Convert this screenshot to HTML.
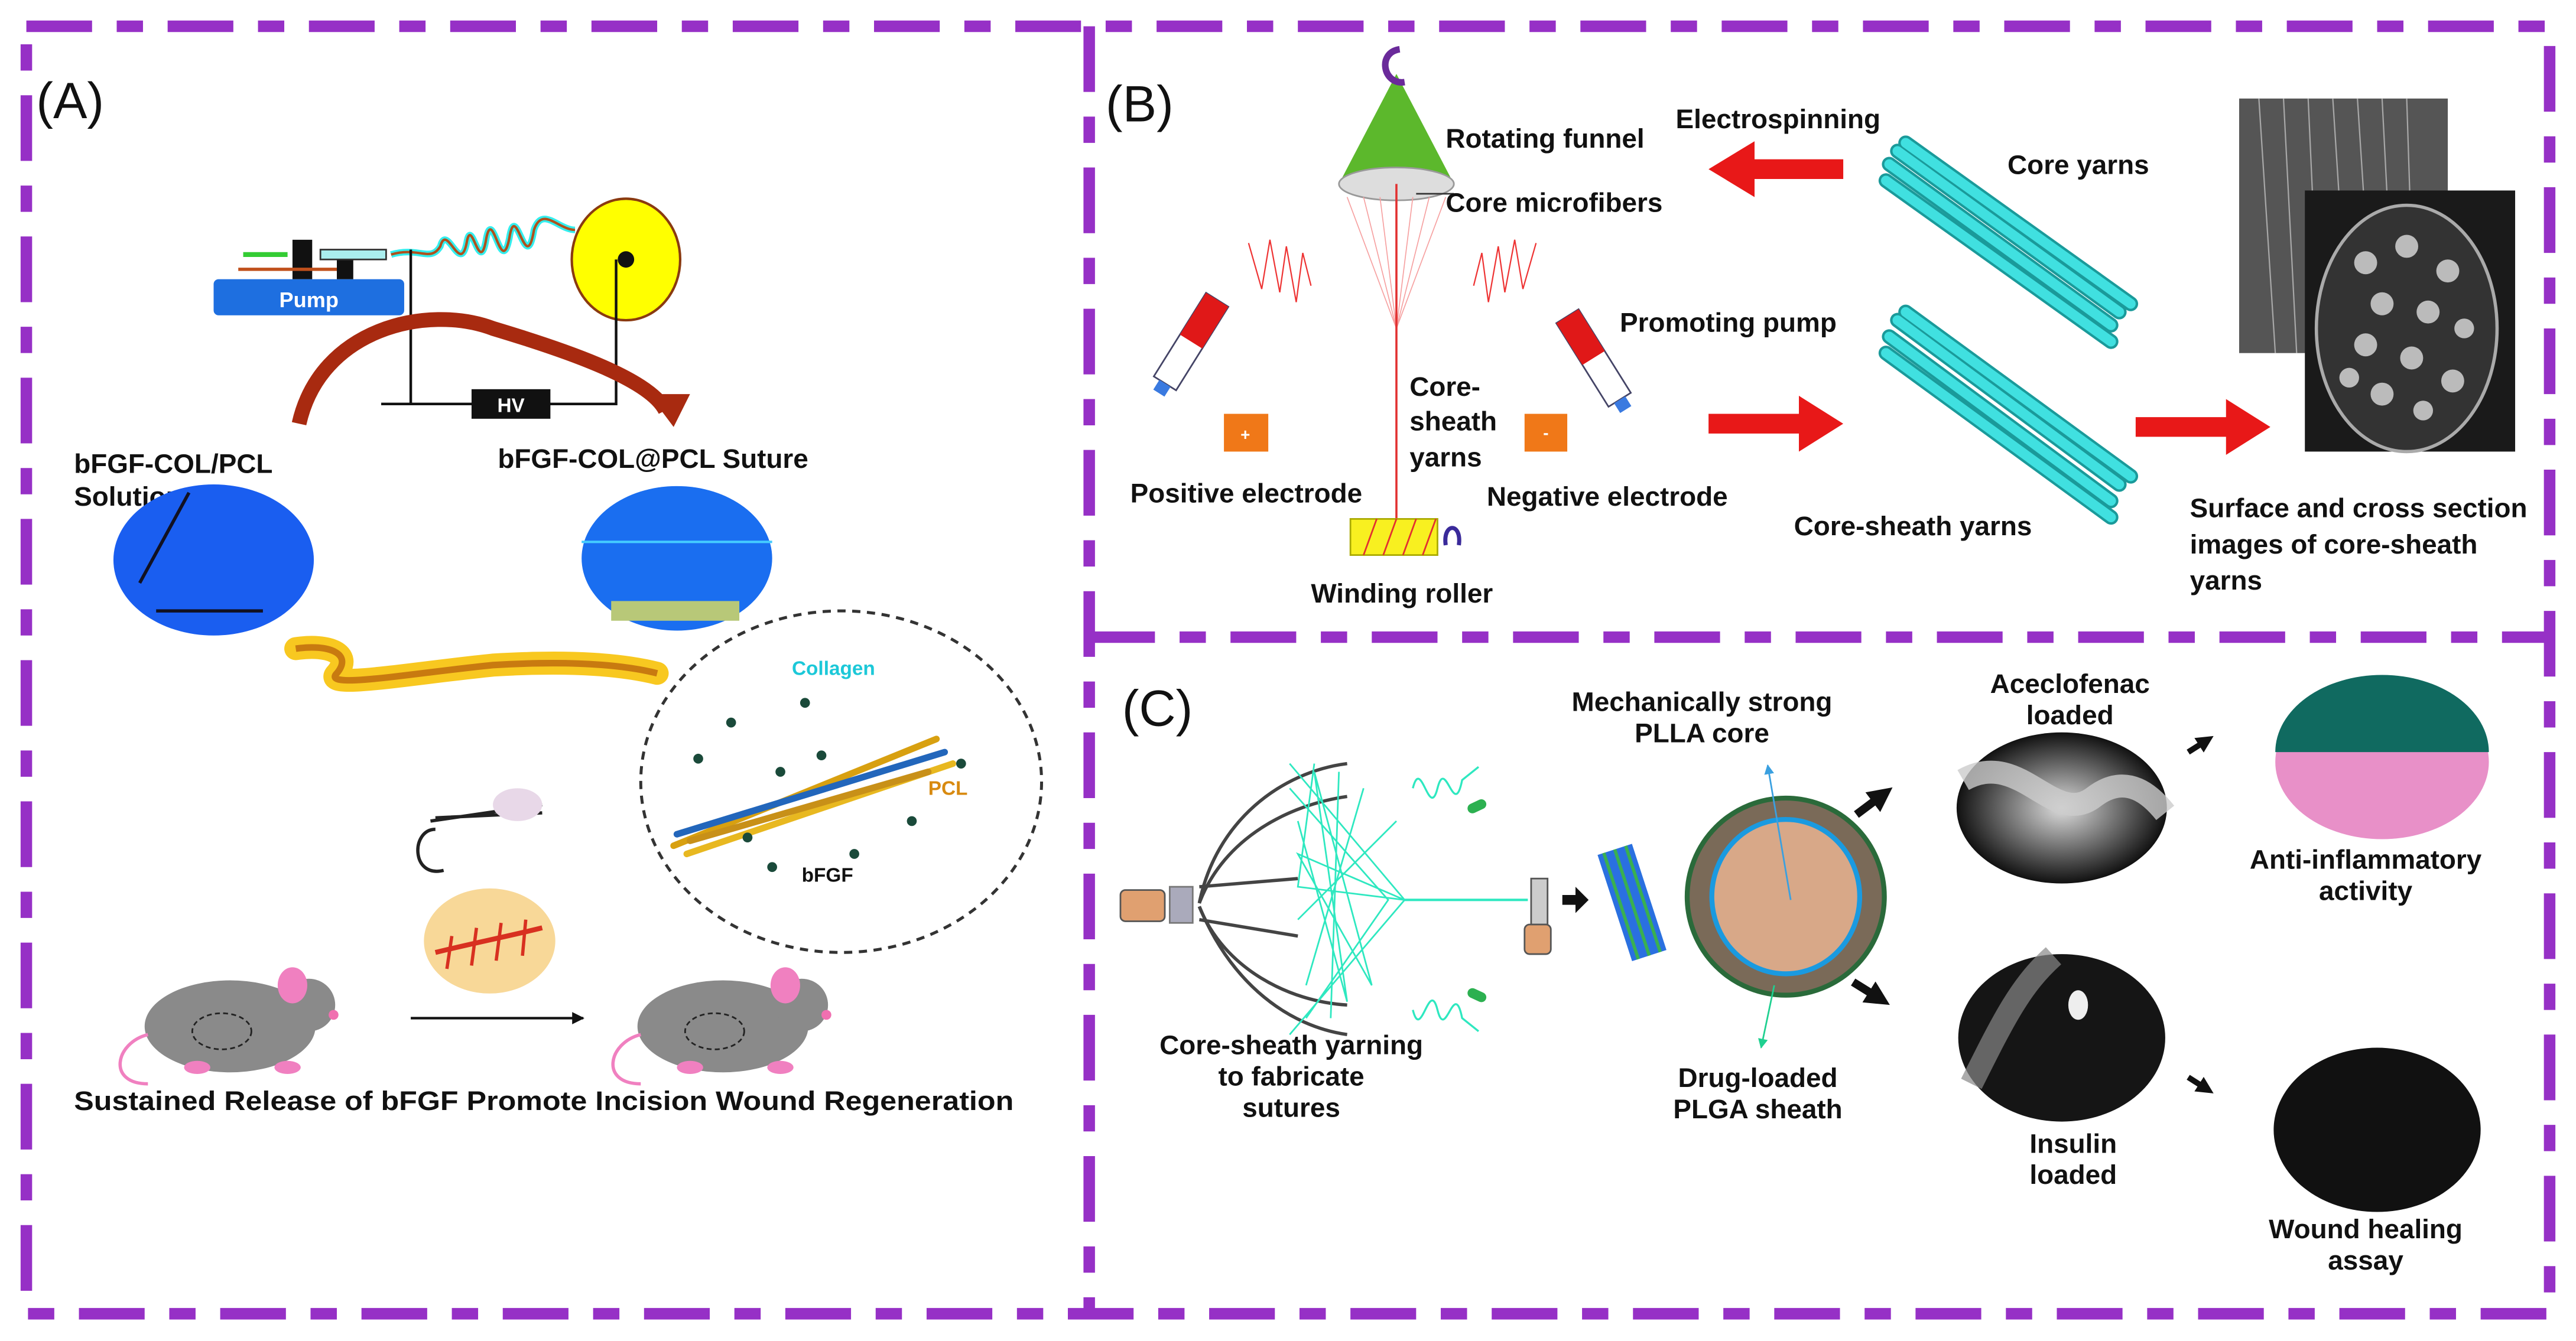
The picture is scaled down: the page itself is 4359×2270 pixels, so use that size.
<!DOCTYPE html>
<html><head><meta charset="utf-8"><style>
html,body{margin:0;padding:0;background:#fff;}
svg{display:block;}
text{font-family:"Liberation Sans",Arial,sans-serif;font-weight:bold;fill:#111;}
.lab{font-size:16.5px;}
.big{font-size:31px;font-weight:normal;}
</style></head><body>
<svg width="4359" height="2270" viewBox="0 0 1568 816.6" xmlns="http://www.w3.org/2000/svg">
<defs>
<marker id="ah" viewBox="0 0 10 10" refX="9" refY="5" markerWidth="5" markerHeight="5" orient="auto"><path d="M0,0L10,5L0,10z" fill="#111"/></marker>
<marker id="ahk" viewBox="0 0 10 10" refX="5" refY="5" markerWidth="3" markerHeight="3" orient="auto"><path d="M0,0L10,5L0,10z" fill="#111"/></marker>
<marker id="ahb" viewBox="0 0 10 10" refX="9" refY="5" markerWidth="6" markerHeight="6" orient="auto"><path d="M0,0L10,5L0,10z" fill="#3aa0e0"/></marker>
<marker id="ahg" viewBox="0 0 10 10" refX="9" refY="5" markerWidth="6" markerHeight="6" orient="auto"><path d="M0,0L10,5L0,10z" fill="#1fd090"/></marker>
<radialGradient id="gy" cx="50%" cy="50%" r="50%"><stop offset="0" stop-color="#ddd"/><stop offset="1" stop-color="#111"/></radialGradient>
</defs>
<!-- borders -->
<g fill="none" stroke="#9630c6" stroke-width="7" stroke-dasharray="40 15 16 15">
<rect x="16" y="16" width="1536" height="784"/>
<line x1="663" y1="16" x2="663" y2="800"/>
<line x1="663" y1="388" x2="1552" y2="388"/>
</g>

<!-- Panel A -->
<text class="big" x="22" y="72">(A)</text>
<rect x="130" y="170" width="116" height="22" rx="3" fill="#1e6fe0"/>
<text x="188" y="187" text-anchor="middle" style="font-size:13px;fill:#fff">Pump</text>
<rect x="178" y="146" width="12" height="24" fill="#111"/>
<rect x="205" y="158" width="10" height="12" fill="#111"/>
<line x1="148" y1="155" x2="175" y2="155" stroke="#3c3" stroke-width="3"/>
<line x1="145" y1="164" x2="205" y2="164" stroke="#c0501c" stroke-width="2"/>
<rect x="195" y="152" width="40" height="6" fill="#aee" stroke="#333" stroke-width="1"/>
<path d="M238,155 C255,150 262,160 268,150 C272,135 280,168 284,148 C287,130 292,170 296,145 C300,125 305,170 310,145 C314,120 320,170 325,140 C330,125 340,140 350,140" fill="none" stroke="#3ee" stroke-width="4"/>
<path d="M238,155 C255,150 262,160 268,150 C272,135 280,168 284,148 C287,130 292,170 296,145 C300,125 305,170 310,145 C314,120 320,170 325,140 C330,125 340,140 350,140" fill="none" stroke="#b0501c" stroke-width="1.5"/>
<ellipse cx="381" cy="158" rx="33" ry="37" fill="#ff0" stroke="#8a3a10" stroke-width="1.5"/>
<circle cx="381" cy="158" r="5" fill="#111"/>
<path d="M250,152V246H375V158" fill="none" stroke="#111" stroke-width="1.6"/>
<line x1="232" y1="246" x2="250" y2="246" stroke="#111" stroke-width="1.6"/>
<path d="M182,258 C195,200 260,185 300,200 C340,212 395,230 405,250" fill="none" stroke="#a82a10" stroke-width="9"/>
<path d="M395,240 L420,240 L410,260z" fill="#a82a10"/>
<rect x="287" y="237" width="48" height="18" fill="#111"/>
<text x="311" y="251" text-anchor="middle" style="font-size:12px;fill:#fff">HV</text>
<text class="lab" x="45" y="288">bFGF-COL/PCL</text>
<text class="lab" x="45" y="308">Solution</text>
<text class="lab" x="303" y="285">bFGF-COL@PCL Suture</text>
<ellipse cx="130" cy="341" rx="61" ry="46" fill="#1a5ef0"/>
<path d="M85,355L115,300M95,372L160,372" stroke="#112" stroke-width="2"/>
<ellipse cx="412" cy="340" rx="58" ry="44" fill="#1a6ef0"/>
<line x1="354" y1="330" x2="470" y2="330" stroke="#4cf" stroke-width="1.5"/>
<rect x="372" y="366" width="78" height="12" fill="#b8c878"/>
<path d="M180,395 C200,392 215,398 205,410 C195,420 250,410 300,405 C350,402 380,405 400,410" fill="none" stroke="#f8c820" stroke-width="14" stroke-linecap="round"/>
<path d="M180,395 C200,392 215,398 205,410 C195,420 250,410 300,405 C350,402 380,405 400,410" fill="none" stroke="#c87a10" stroke-width="4"/>
<ellipse cx="512" cy="476" rx="122" ry="104" fill="none" stroke="#333" stroke-width="1.8" stroke-dasharray="5 4"/>
<g stroke-width="4" stroke-linecap="round">
<line x1="410" y1="515" x2="570" y2="450" stroke="#d8a010"/>
<line x1="412" y1="508" x2="575" y2="458" stroke="#2266bb"/>
<line x1="418" y1="520" x2="580" y2="465" stroke="#e8b820"/>
<line x1="420" y1="512" x2="565" y2="470" stroke="#c89018"/>
</g>
<g fill="#1a4a3a"><circle cx="425" cy="462" r="3"/><circle cx="445" cy="440" r="3"/><circle cx="490" cy="428" r="3"/><circle cx="455" cy="510" r="3"/><circle cx="470" cy="528" r="3"/><circle cx="520" cy="520" r="3"/><circle cx="555" cy="500" r="3"/><circle cx="585" cy="465" r="3"/><circle cx="500" cy="460" r="3"/><circle cx="475" cy="470" r="3"/></g>
<text x="482" y="411" style="font-size:12px;fill:#1cc8d8">Collagen</text>
<text x="565" y="484" style="font-size:12px;fill:#d88a10">PCL</text>
<text x="488" y="537" style="font-size:12px">bFGF</text>
<path d="M265,505 C250,505 250,535 270,530 M262,500 L330,490 M265,498 L330,495" fill="none" stroke="#222" stroke-width="2"/>
<ellipse cx="315" cy="490" rx="15" ry="10" fill="#e8d8e8"/>
<ellipse cx="298" cy="573" rx="40" ry="32" fill="#f8d898"/>
<path d="M265,580 C285,575 310,570 330,565" stroke="#d83020" stroke-width="3" fill="none"/>
<g stroke="#d83020" stroke-width="2"><line x1="275" y1="570" x2="272" y2="590"/><line x1="290" y1="565" x2="287" y2="588"/><line x1="305" y1="562" x2="302" y2="585"/><line x1="320" y1="560" x2="318" y2="582"/></g>
<g id="mouse">
<ellipse cx="140" cy="625" rx="52" ry="28" fill="#8a8a8a"/>
<circle cx="188" cy="612" r="16" fill="#8a8a8a"/>
<ellipse cx="178" cy="600" rx="9" ry="11" fill="#f080c0"/>
<circle cx="203" cy="618" r="3" fill="#f070b0"/>
<ellipse cx="135" cy="628" rx="18" ry="11" fill="none" stroke="#222" stroke-dasharray="3 2"/>
<path d="M90,630 C70,635 65,660 90,660" stroke="#f080c0" stroke-width="2" fill="none"/>
<ellipse cx="120" cy="650" rx="8" ry="4" fill="#f080c0"/><ellipse cx="175" cy="650" rx="8" ry="4" fill="#f080c0"/>
</g>
<use href="#mouse" transform="translate(300,0)"/>
<line x1="250" y1="620" x2="355" y2="620" stroke="#111" stroke-width="1.5" marker-end="url(#ah)"/>
<text class="lab" x="45" y="676" textLength="572" lengthAdjust="spacingAndGlyphs">Sustained Release of bFGF Promote Incision Wound Regeneration</text>

<!-- Panel B -->
<text class="big" x="673" y="74">(B)</text>
<path d="M850,45 L815,112 L885,112z" fill="#5cb82c"/>
<ellipse cx="850" cy="112" rx="35" ry="10" fill="#ddd" stroke="#999"/>
<path d="M852,30 C838,32 842,52 855,50" fill="none" stroke="#6a2a9a" stroke-width="4"/>
<g stroke="#f6a0a0" stroke-width="0.6" fill="none"><path d="M820,120L850,200L880,120M830,120L850,200L870,120M840,120L850,200L860,120"/></g>
<line x1="850" y1="112" x2="850" y2="316" stroke="#e23030" stroke-width="1.3"/>
<line x1="862" y1="118" x2="885" y2="118" stroke="#333" stroke-width="1"/>
<rect x="822" y="316" width="53" height="22" fill="#f8f020" stroke="#aa0" stroke-width="1"/>
<path d="M830,338L838,316M842,338L850,316M854,338L862,316M866,338L874,316" stroke="#e23030" stroke-width="1"/>
<path d="M880,332 C878,318 890,318 888,332" fill="none" stroke="#3a2a9a" stroke-width="2.5"/>
<path d="M760,148 l8,28 l5,-30 l6,32 l4,-28 l6,34 l4,-30 l5,20" stroke="#e33" stroke-width="0.8" fill="none"/>
<path d="M935,148 l-8,28 l-5,-30 l-6,32 l-4,-28 l-6,34 l-4,-30 l-5,20" stroke="#e33" stroke-width="0.8" fill="none"/>
<g transform="rotate(-58 725 208)"><rect x="695" y="200" width="60" height="16" fill="#fff" stroke="#446"/><rect x="725" y="200" width="30" height="16" fill="#e01818"/><rect x="688" y="204" width="7" height="8" fill="#3a7ae0"/></g>
<g transform="rotate(58 970 218)"><rect x="940" y="210" width="60" height="16" fill="#fff" stroke="#446"/><rect x="940" y="210" width="30" height="16" fill="#e01818"/><rect x="1000" y="214" width="7" height="8" fill="#3a7ae0"/></g>
<rect x="745" y="252" width="27" height="23" fill="#f07818"/><text x="758" y="268" text-anchor="middle" style="font-size:10px;fill:#fff">+</text>
<rect x="928" y="252" width="26" height="23" fill="#f07818"/><text x="941" y="267" text-anchor="middle" style="font-size:10px;fill:#fff">-</text>
<text class="lab" x="880" y="90">Rotating funnel</text>
<text class="lab" x="1020" y="78">Electrospinning</text>
<text class="lab" x="880" y="129">Core microfibers</text>
<text class="lab" x="1222" y="106">Core yarns</text>
<text class="lab" x="986" y="202">Promoting pump</text>
<text class="lab" x="858" y="241">Core-</text>
<text class="lab" x="858" y="262">sheath</text>
<text class="lab" x="858" y="284">yarns</text>
<text class="lab" x="688" y="306">Positive electrode</text>
<text class="lab" x="905" y="308">Negative electrode</text>
<text class="lab" x="798" y="367">Winding roller</text>
<text class="lab" x="1092" y="326">Core-sheath yarns</text>
<text class="lab" x="1333" y="315">Surface and cross section</text>
<text class="lab" x="1333" y="337">images of core-sheath</text>
<text class="lab" x="1333" y="359">yarns</text>
<path d="M1122,97 H1068 V86 L1040,103 L1068,120 V109 H1122z" fill="#e81818"/>
<path d="M1040,252 H1095 V241 L1122,258 L1095,275 V264 H1040z" fill="#e81818"/>
<path d="M1300,254 H1355 V243 L1382,260 L1355,277 V266 H1300z" fill="#e81818"/>
<g stroke-linecap="round">
<g stroke="#1a9a9a" stroke-width="9"><line x1="1155" y1="92" x2="1290" y2="190"/><line x1="1150" y1="100" x2="1285" y2="198"/><line x1="1148" y1="110" x2="1285" y2="208"/><line x1="1160" y1="87" x2="1297" y2="185"/></g>
<g stroke="#40e0e0" stroke-width="6"><line x1="1155" y1="92" x2="1290" y2="190"/><line x1="1150" y1="100" x2="1285" y2="198"/><line x1="1148" y1="110" x2="1285" y2="208"/><line x1="1160" y1="87" x2="1297" y2="185"/></g>
<g stroke="#1a9a9a" stroke-width="9"><line x1="1155" y1="195" x2="1290" y2="295"/><line x1="1150" y1="205" x2="1285" y2="305"/><line x1="1148" y1="215" x2="1285" y2="315"/><line x1="1160" y1="190" x2="1297" y2="290"/></g>
<g stroke="#40e0e0" stroke-width="6"><line x1="1155" y1="195" x2="1290" y2="295"/><line x1="1150" y1="205" x2="1285" y2="305"/><line x1="1148" y1="215" x2="1285" y2="315"/><line x1="1160" y1="190" x2="1297" y2="290"/></g>
</g>
<rect x="1363" y="60" width="127" height="155" fill="#555"/>
<g stroke="#ccc" stroke-width="0.8" opacity="0.7"><path d="M1375,60 L1385,215 M1390,60 L1398,215 M1405,60 L1412,215 M1420,60 L1430,215 M1435,60 L1445,215 M1450,60 L1458,215 M1465,60 L1470,215"/></g>
<rect x="1403" y="116" width="128" height="159" fill="#1a1a1a"/>
<ellipse cx="1465" cy="200" rx="55" ry="75" fill="#333" stroke="#aaa" stroke-width="2"/>
<g fill="#bbb"><circle cx="1440" cy="160" r="7"/><circle cx="1465" cy="150" r="7"/><circle cx="1490" cy="165" r="7"/><circle cx="1450" cy="185" r="7"/><circle cx="1478" cy="190" r="7"/><circle cx="1500" cy="200" r="6"/><circle cx="1440" cy="210" r="7"/><circle cx="1468" cy="218" r="7"/><circle cx="1493" cy="232" r="7"/><circle cx="1450" cy="240" r="7"/><circle cx="1475" cy="250" r="6"/><circle cx="1430" cy="230" r="6"/></g>

<!-- Panel C -->
<text class="big" x="683" y="442">(C)</text>
<rect x="682" y="542" width="27" height="19" rx="3" fill="#e0a070" stroke="#555"/>
<rect x="712" y="540" width="14" height="22" fill="#aab" stroke="#777"/>
<g fill="none" stroke="#444" stroke-width="2"><path d="M730,550 C740,500 780,470 820,465"/><path d="M730,550 C745,510 785,490 820,485"/><path d="M730,552 C750,600 785,625 820,630"/><path d="M730,552 C745,590 785,610 820,612"/><path d="M730,540 L790,535"/><path d="M730,560 L790,570"/></g>
<g fill="none" stroke="#2ee8c0" stroke-width="1"><path d="M785,465 L855,548 L785,630 M800,465 L790,540 L855,548 M785,480 L845,548 L795,620 M790,500 L820,610 L800,470 L835,600 L790,520 L855,548 M815,470 L810,620 M830,480 L795,600 M850,500 L790,560"/></g>
<line x1="855" y1="548" x2="930" y2="548" stroke="#2ee8c0" stroke-width="1.5"/>
<path d="M860,480 c5,-20 10,20 15,0 c5,-20 10,20 15,-5 l10,-8" fill="none" stroke="#2ee8c0" stroke-width="1.2"/>
<path d="M860,615 c5,20 10,-20 15,0 c5,20 10,-20 15,5 l10,8" fill="none" stroke="#2ee8c0" stroke-width="1.2"/>
<rect x="893" y="488" width="12" height="6" rx="3" fill="#2cb050" transform="rotate(-25 899 491)"/>
<rect x="893" y="603" width="12" height="6" rx="3" fill="#2cb050" transform="rotate(25 899 606)"/>
<rect x="932" y="535" width="10" height="28" fill="#ccc" stroke="#555"/>
<rect x="928" y="563" width="16" height="18" rx="3" fill="#e0a070" stroke="#555"/>
<path d="M951,545h8v-5l8,8l-8,8v-5h-8z" fill="#111"/>
<g transform="rotate(-18 995 548)"><rect x="982" y="515" width="22" height="68" fill="#2a70e0"/><g stroke="#3ab050" stroke-width="2"><line x1="986" y1="515" x2="986" y2="583"/><line x1="993" y1="515" x2="993" y2="583"/><line x1="1000" y1="515" x2="1000" y2="583"/></g></g>
<circle cx="1087" cy="546" r="60" fill="#7a6a58" stroke="#2a6a3a" stroke-width="3"/>
<ellipse cx="1087" cy="546" rx="45" ry="47" fill="#d8a888" stroke="#1a9ae0" stroke-width="3"/>
<line x1="1090" y1="548" x2="1076" y2="466" stroke="#3aa0e0" stroke-width="1" marker-end="url(#ahb)"/>
<line x1="1080" y1="600" x2="1072" y2="638" stroke="#1fd090" stroke-width="1" marker-end="url(#ahg)"/>
<ellipse cx="1255" cy="492" rx="64" ry="46" fill="url(#gy)"/>
<path d="M1195,475 C1230,455 1250,505 1275,485 C1295,470 1310,485 1318,495" stroke="#ccc" stroke-width="14" fill="none" opacity="0.8"/>
<ellipse cx="1255" cy="632" rx="63" ry="51" fill="#151515"/>
<path d="M1200,660 C1220,620 1230,600 1250,582" stroke="#888" stroke-width="14" fill="none" opacity="0.7"/>
<ellipse cx="1265" cy="612" rx="6" ry="9" fill="#eee"/>
<ellipse cx="1450" cy="464" rx="65" ry="47" fill="#e890c8"/>
<path d="M1385,458 A65,47 0 0 1 1515,458z" fill="#106a60"/>
<ellipse cx="1447" cy="688" rx="63" ry="50" fill="#111"/>
<g stroke="#111" stroke-width="5" fill="none">
<line x1="1130" y1="496" x2="1146" y2="484" marker-end="url(#ahk)"/>
<line x1="1128" y1="598" x2="1144" y2="608" marker-end="url(#ahk)"/>
</g>
<g stroke="#111" stroke-width="3.5" fill="none">
<line x1="1332" y1="458" x2="1343" y2="451" marker-end="url(#ahk)"/>
<line x1="1332" y1="656" x2="1343" y2="663" marker-end="url(#ahk)"/>
</g>
<g class="lab" text-anchor="middle">
<text x="1036" y="433">Mechanically strong</text>
<text x="1036" y="452">PLLA core</text>
<text x="1260" y="422">Aceclofenac</text>
<text x="1260" y="441">loaded</text>
<text x="1440" y="529">Anti-inflammatory</text>
<text x="1440" y="548">activity</text>
<text x="786" y="642">Core-sheath yarning</text>
<text x="786" y="661">to fabricate</text>
<text x="786" y="680">sutures</text>
<text x="1070" y="662">Drug-loaded</text>
<text x="1070" y="681">PLGA sheath</text>
<text x="1262" y="702">Insulin</text>
<text x="1262" y="721">loaded</text>
<text x="1440" y="754">Wound healing</text>
<text x="1440" y="773">assay</text>
</g>
</svg>
</body></html>
